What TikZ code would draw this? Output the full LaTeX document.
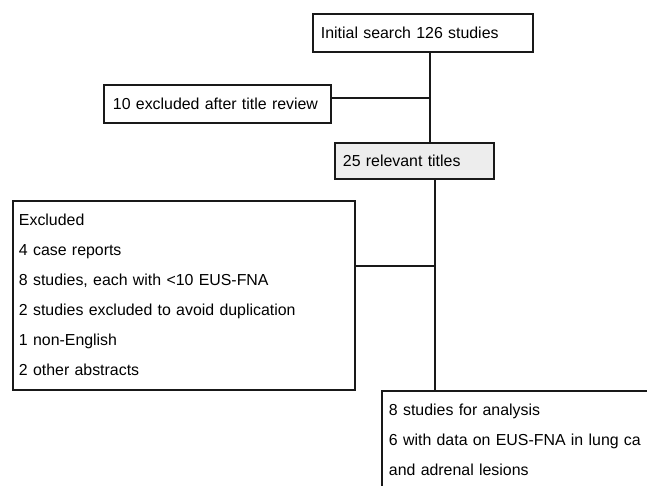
\documentclass[tikz,border=0pt]{standalone}
\usepackage{fontspec}
\setmainfont{Liberation Sans}
\begin{document}
\begin{tikzpicture}[x=1pt,y=-1pt,
  boxstyle/.style={draw=black!90, line width=1.9pt, rectangle, anchor=north west, align=left, inner ysep=0pt},
  conn/.style={draw=black!90, line width=1.9pt},
  txt/.style={font=\fontsize{15.9}{30}\selectfont}]
\useasboundingbox (0,0) rectangle (647,485);
\clip (0,0) rectangle (647,485);
\node[boxstyle, txt, minimum width=220pt, minimum height=38pt, text width=204pt, inner xsep=8pt] (box1) at (312,13) {Initial search 126 studies};
\node[boxstyle, txt, minimum width=227pt, minimum height=38pt, text width=209pt, inner xsep=9pt] (box2) at (103,84) {10 excluded after title review};
\node[boxstyle, txt, fill=black!7, minimum width=159pt, minimum height=36pt, text width=143pt, inner xsep=8pt] (box3) at (334,142) {25 relevant titles};
\node[boxstyle, txt, minimum width=342pt, text width=330pt, inner xsep=6pt] (box4) at (12,200) {\rule{0pt}{25pt}Excluded\\4 case reports\\8 studies, each with <10 EUS-FNA\\2 studies excluded to avoid duplication\\1 non-English\\2 other abstracts\rule[-14pt]{0pt}{14pt}};
\node[boxstyle, txt, minimum width=320pt, text width=306pt, inner xsep=7pt] (box5) at (381,390) {\rule{0pt}{25pt}8 studies for analysis\\6 with data on EUS-FNA in lung ca\\and adrenal lesions\rule[-30pt]{0pt}{30pt}};
\coordinate (t1) at (430,0);
\coordinate (t2) at (435,0);
\coordinate (j1) at (430,98);
\coordinate (j2) at (435,266);
\draw[conn] (box1.south -| t1) -- (box3.north -| t1);
\draw[conn] (box2.east |- j1) -- (j1);
\draw[conn] (box3.south -| t2) -- (box5.north -| t2);
\draw[conn] (box4.east |- j2) -- (j2);
\end{tikzpicture}
\end{document}
